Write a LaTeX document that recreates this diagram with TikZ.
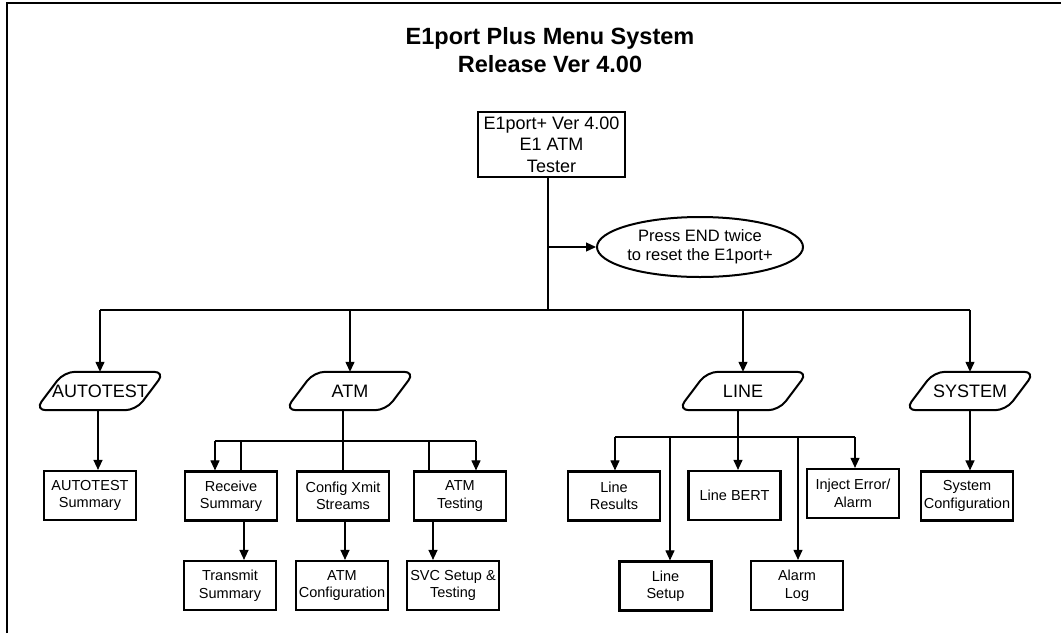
\documentclass[tikz,border=0pt]{standalone}
\usepackage{fontspec}
\setmainfont{Liberation Sans}
\usetikzlibrary{arrows.meta,shapes.geometric,calc}
\newcommand\drawpara[1]{\draw[pshape] (#1.south) -- ([xshift=36pt]#1.south) -- ([xshift=65pt]#1.north) -- ([xshift=-36pt]#1.north) -- ([xshift=-65pt]#1.south) -- cycle;}
\begin{document}
\begin{tikzpicture}[x=1pt,y=-1pt,
  box/.style={draw, line width=2.2pt, minimum width=92pt, minimum height=49pt, inner sep=0pt, align=center, font=\fontsize{14.5}{17.5}\selectfont},
  ptext/.style={minimum width=130pt, minimum height=38pt, inner sep=0pt, font=\fontsize{18}{20}\selectfont},
  pshape/.style={line width=2pt, rounded corners=11pt},
  conn/.style={line width=1.3pt},
  thin conn/.style={line width=1.1pt},
  arr/.style={-{Triangle[length=10pt,width=9pt]}}]
\useasboundingbox (0,0) rectangle (1061,633);
\fill[white] (0,0) rectangle (1061,633);
% frame
\draw[line width=2pt] (7,633) -- (7,3) -- (1061,3);
% title
\node[font=\bfseries\fontsize{23.5}{28}\selectfont, align=center] (title) at (550,50) {E1port Plus Menu System\\Release Ver 4.00};
% root
\node[draw, line width=2.2pt, minimum width=147pt, minimum height=65pt, inner sep=0pt, align=center, font=\fontsize{18}{21.5}\selectfont] (root) at (551.5,144.5) {E1port+ Ver 4.00\\E1 ATM\\Tester};
\node[ellipse, draw, line width=2pt, minimum width=206pt, minimum height=60pt, inner sep=0pt, align=center, font=\fontsize{16.5}{19}\selectfont] (ell) at (700,247) {Press END twice\\to reset the E1port+};
\coordinate (rb) at (548,247);
\coordinate (bus) at (548,310);
\coordinate (busL) at (100,310);
\coordinate (busR) at (970,310);
\draw[conn] (root.south -| bus) -- (bus);
\draw[conn,arr] (rb) -- (ell.west);
\draw[conn] (busL) -- (busR);
% level 1 shapes
\node[ptext] (autotest) at (100,391) {AUTOTEST};
\node[ptext] (atm) at (350,391) {ATM};
\node[ptext] (line) at (743,391) {LINE};
\node[ptext] (system) at (970,391) {SYSTEM};
\drawpara{autotest}
\drawpara{atm}
\drawpara{line}
\drawpara{system}
\draw[conn,arr] (busL) -- (autotest.north);
\draw[conn,arr] (bus -| atm.north) -- (atm.north);
\draw[conn,arr] (bus -| line.north) -- (line.north);
\draw[conn,arr] (busR) -- (system.north);
% boxes
\node[box] (atsum) at (90,495.5) {AUTOTEST\\Summary};
\node[box] (recv) at (231,496) {Receive\\Summary};
\node[box] (config) at (343,496) {Config Xmit\\Streams};
\node[box] (atmt) at (460,496) {ATM\\Testing};
\node[box] (xmit) at (230,585.5) {Transmit\\Summary};
\node[box] (atmc) at (342,585.5) {ATM\\Configuration};
\node[box] (svc) at (453,585.5) {SVC Setup \&\\Testing};
\node[box] (lres) at (614,496) {Line\\Results};
\node[box] (lbert) at (734.5,495.5) {Line BERT};
\node[box] (inj) at (853,493.5) {Inject Error/\\Alarm};
\node[box] (sysc) at (967,496) {System\\Configuration};
\node[box] (lset) at (665.5,586) {Line\\Setup};
\node[box] (alog) at (797,585.5) {Alarm\\Log};
% autotest
\draw[conn,arr] ([xshift=-2pt]autotest.south) -- ([xshift=-2pt]autotest.south |- atsum.north);
% ATM section
\coordinate (ab1) at (215,441);
\coordinate (ab2) at (476,441);
\coordinate (ab3) at (241,441);
\coordinate (ab4) at (429,441);
\draw[thin conn] (ab1) -- (ab2);
\draw[thin conn] (config.north |- atm.south) -- (config.north);
\draw[thin conn,arr] (ab1) -- (ab1 |- recv.north);
\draw[thin conn] (ab3) -- (ab3 |- recv.north);
\draw[thin conn] (ab4) -- (ab4 |- atmt.north);
\draw[thin conn,arr] (ab2) -- (ab2 |- atmt.north);
\draw[conn,arr] ([xshift=13pt]recv.south) -- ([xshift=13pt]recv.south |- xmit.north);
\draw[conn,arr] ([xshift=2pt]config.south) -- ([xshift=2pt]config.south |- atmc.north);
\draw[conn,arr] ([xshift=-27pt]atmt.south) -- ([xshift=-27pt]atmt.south |- svc.north);
% LINE section
\coordinate (lb1) at (615,437);
\coordinate (lb2) at (855,437);
\coordinate (lb3) at (670,437);
\coordinate (lb4) at (798,437);
\draw[thin conn] (lb1) -- (lb2);
\draw[thin conn,arr] ([xshift=-5pt]line.south) -- ([xshift=-5pt]line.south |- lbert.north);
\draw[thin conn,arr] (lb1) -- (lb1 |- lres.north);
\draw[thin conn,arr] (lb3) -- (lb3 |- lset.north);
\draw[thin conn,arr] (lb4) -- (lb4 |- alog.north);
\draw[thin conn,arr] (lb2) -- (lb2 |- inj.north);
% SYSTEM
\draw[conn,arr] (system.south) -- (system.south |- sysc.north);
\end{tikzpicture}
\end{document}
